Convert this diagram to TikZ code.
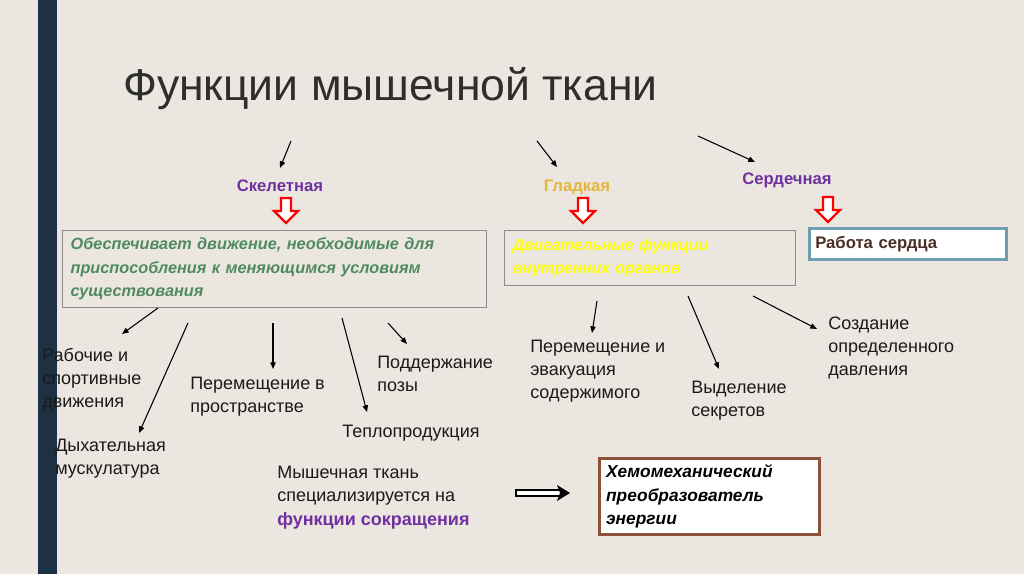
\documentclass[tikz,border=0pt]{standalone}
\usepackage{fontspec}
\setmainfont{Liberation Sans}
\usetikzlibrary{arrows.meta,calc}
\definecolor{bg}{HTML}{EBE7E0}
\definecolor{navy}{HTML}{1E3044}
\definecolor{titlec}{HTML}{2E2E2E}
\definecolor{txt}{HTML}{1A1A1A}
\definecolor{purp}{HTML}{7030A0}
\definecolor{gold}{HTML}{E6B53A}
\definecolor{greentxt}{HTML}{4F8A60}
\definecolor{yel}{HTML}{FFFF00}
\definecolor{boxgray}{HTML}{8C8C8C}
\definecolor{teal}{HTML}{6F9FAE}
\definecolor{darkbrown}{HTML}{4A2E22}
\definecolor{brownb}{HTML}{8C5237}
\begin{document}
\begin{tikzpicture}[x=0.75pt,y=-0.75pt,
  lbl/.style={anchor=base west, inner sep=0pt, align=left, font=\fontsize{13.5}{17}\selectfont, text=txt},
  conn/.style={-{Triangle[length=5pt,width=4pt]}, line width=0.8pt, draw=black},
  hollow/.style={draw=red, fill=white, line width=1.7pt, line join=miter},
  cat/.style={anchor=base, inner sep=0pt, font=\bfseries\fontsize{12.5}{15}\selectfont},
  boxtext/.style={anchor=north west, align=left, inner ysep=0pt, font=\bfseries\itshape\fontsize{12.2}{17.6}\selectfont},
  hollowdown/.pic={\draw[hollow] (-5,0) -- (5,0) -- (5,13) -- (12,13) -- (0,25) -- (-12,13) -- (-5,13) -- cycle;}
]
\fill[bg] (0,0) rectangle (1024,574);
\useasboundingbox (0,0) rectangle (1024,574);
\fill[navy] (38,0) rectangle (57,574);

% title
\node[anchor=base west, inner sep=0pt, font=\fontsize{33.4}{38}\selectfont, text=titlec] (title) at (123,101) {Функции мышечной ткани};

% categories
\node[cat, text=purp] (skel) at (280,191) {Скелетная};
\node[cat, text=gold] (smooth) at (577,191) {Гладкая};
\node[cat, text=purp] (card) at (787,185) {Сердечная};

\coordinate (s1a) at (291,141); \coordinate (s1b) at (280,168);
\coordinate (s2a) at (537,141); \coordinate (s2b) at (557,167);
\coordinate (s3a) at (698,136); \coordinate (s3b) at (755,162);
\draw[conn] (s1a) -- (s1b);
\draw[conn] (s2a) -- (s2b);
\draw[conn] (s3a) -- (s3b);

\pic at (286,198) {hollowdown};
\pic at (583,198) {hollowdown};
\pic at (828,197) {hollowdown};

% boxes
\node[boxtext, draw=boxgray, line width=0.9pt, minimum width=318pt, minimum height=57.75pt, inner xsep=6pt, text width=306pt, text=greentxt] (b1) at (62,230)
  {Обеспечивает движение, необходимые для\\приспособления к меняющимся условиям\\существования};
\node[boxtext, draw=boxgray, line width=0.9pt, minimum width=218.25pt, minimum height=41.25pt, inner xsep=6pt, text width=206pt, text=yel, font=\bfseries\itshape\fontsize{11.8}{17.6}\selectfont] (b2) at (504,230)
  {Двигательные функции\\внутренних органов};
\node[anchor=north west, draw=teal, fill=white, line width=2.2pt, minimum width=147.75pt, minimum height=23.25pt, inner xsep=4pt, inner ysep=0pt, text width=139pt, align=left, font=\bfseries\fontsize{12.5}{15}\selectfont, text=darkbrown] (b3) at (808,227)
  {Работа сердца};
\node[boxtext, draw=brownb, fill=white, line width=2.2pt, minimum width=165pt, minimum height=57pt, inner xsep=5pt, text width=155pt, text=black, font=\bfseries\itshape\fontsize{13}{17.4}\selectfont] (b4) at (598,457)
  {Хемомеханический\\преобразователь\\энергии};

% skeletal outputs (base = baseline of last line)
\node[lbl] (work) at (42,407) {Рабочие и\\спортивные\\движения};
\node[lbl] (breath) at (55,474) {Дыхательная\\мускулатура};
\node[lbl] (move) at (190,412) {Перемещение в\\пространстве};
\node[lbl] (pose) at (377,391) {Поддержание\\позы};
\node[lbl] (heat) at (342,437) {Теплопродукция};

\coordinate (k1a) at (158,308); \coordinate (k1b) at (122,334);
\coordinate (k2a) at (188,323); \coordinate (k2b) at (139,433);
\coordinate (k3a) at (273,323); \coordinate (k3b) at (273,369);
\coordinate (k4a) at (342,318); \coordinate (k4b) at (367,412);
\coordinate (k5a) at (388,323); \coordinate (k5b) at (407,344);
\draw[conn] (k1a) -- (k1b);
\draw[conn] (k2a) -- (k2b);
\draw[conn] (k3a) -- (k3b);
\draw[conn] (k4a) -- (k4b);
\draw[conn] (k5a) -- (k5b);

% smooth outputs
\node[lbl] (evac) at (530,398) {Перемещение и\\эвакуация\\содержимого};
\node[lbl] (secr) at (691,416) {Выделение\\секретов};
\node[lbl] (press) at (828,375) {Создание\\определенного\\давления};

\coordinate (m1a) at (597,301); \coordinate (m1b) at (592,333);
\coordinate (m2a) at (688,296); \coordinate (m2b) at (719,369);
\coordinate (m3a) at (753,296); \coordinate (m3b) at (817,329);
\draw[conn] (m1a) -- (m1b);
\draw[conn] (m2a) -- (m2b);
\draw[conn] (m3a) -- (m3b);

% bottom
\node[lbl, font=\fontsize{13.5}{17.6}\selectfont] (spec) at (277,525)
  {Мышечная ткань\\специализируется на\\{\color{purp}\bfseries функции сокращения}};
\coordinate (d1) at (516,493); \coordinate (d2) at (570,493);
\draw[line width=1.7pt, fill=white] ($(d1)+(0,-3)$) rectangle ($(d2)+(-9,3)$);
\fill[black] ($(d2)+(-13,-8)$) -- (d2) -- ($(d2)+(-13,8)$) -- ($(d2)+(-10,0)$) -- cycle;
\end{tikzpicture}
\end{document}
